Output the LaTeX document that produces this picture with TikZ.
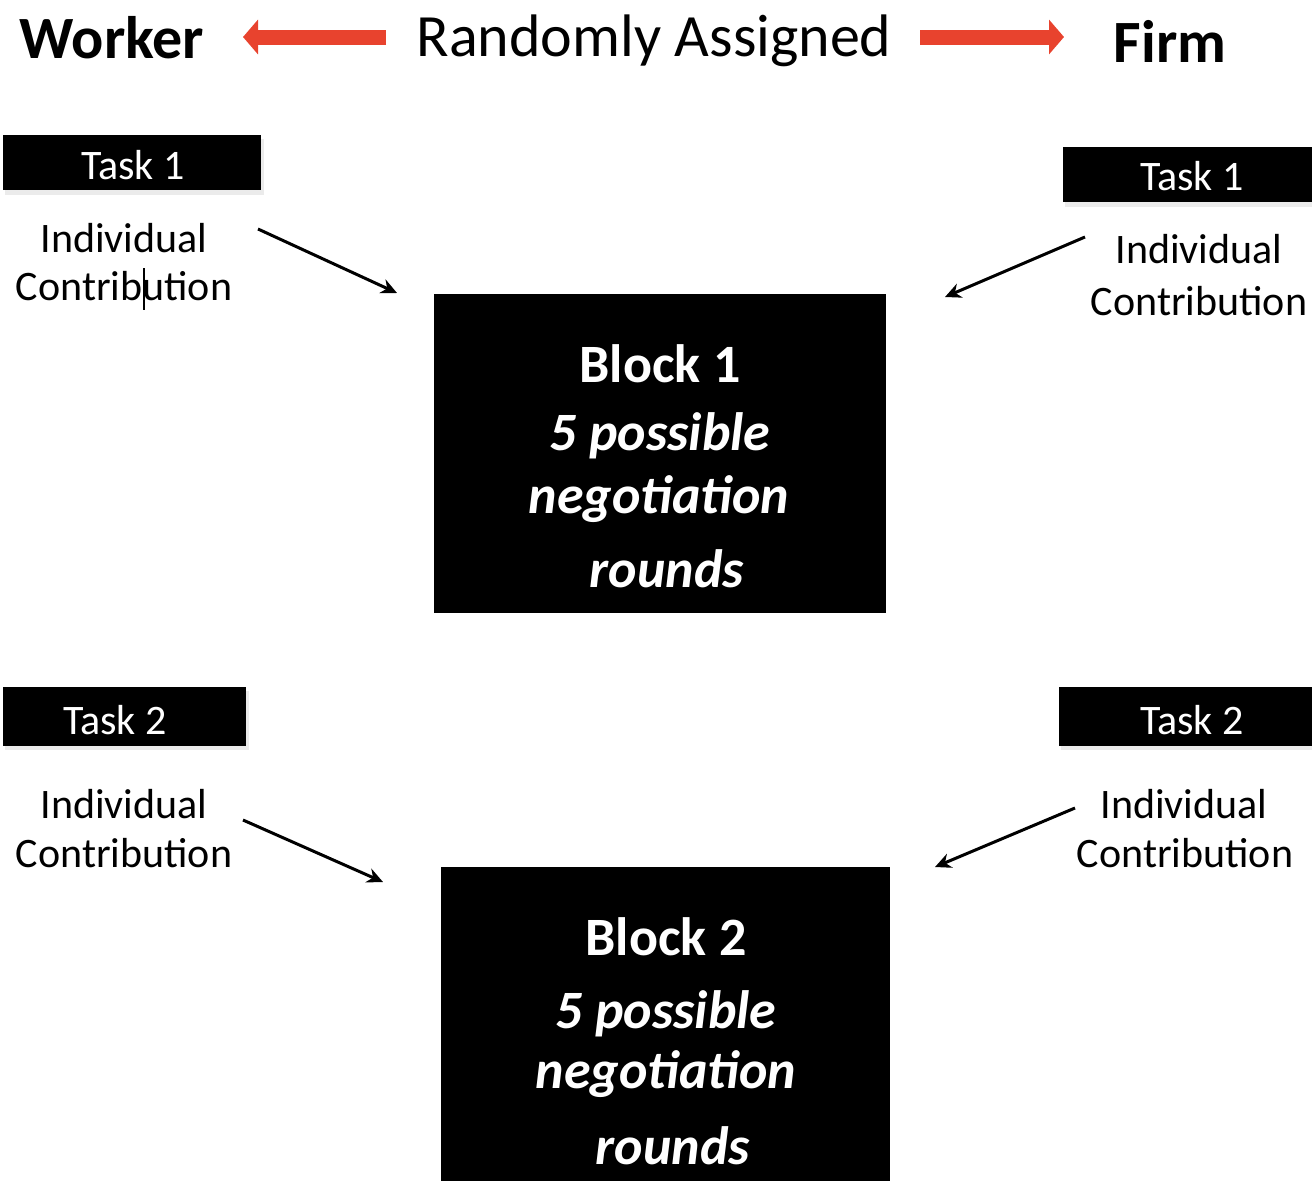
\documentclass[tikz,border=0pt]{standalone}
\usepackage{fontspec}
\setmainfont{Carlito}
\usetikzlibrary{arrows.meta}
\definecolor{arrowred}{RGB}{232,67,46}
\begin{document}
\begin{tikzpicture}[x=1pt,y=-1pt,
  head/.style={anchor=base,inner sep=0pt,font=\fontsize{60}{72}\selectfont},
  txt/.style={anchor=base,inner sep=0pt,font=\fontsize{42}{50}\selectfont},
  tasktxt/.style={txt,text=white},
  blockhead/.style={anchor=base,inner sep=0pt,text=white,font=\fontsize{54}{64}\selectfont\bfseries},
  blocktxt/.style={anchor=base,inner sep=0pt,text=white,font=\fontsize{54}{64}\selectfont\bfseries\itshape},
  taskbox/.style={fill=black,draw=none,inner sep=0pt},
  blockbox/.style={fill=black,draw=none,inner sep=0pt},
  shadow/.style={fill=black!8,draw=none},
  bigarrow/.style={draw=arrowred,line width=15pt,-{Triangle[length=15pt,width=34pt]}},
  ptr/.style={line width=3pt,-{Stealth[length=16pt,width=15pt]}}
]
\useasboundingbox (0,0) rectangle (1312,1181);

% header row
\node[head,font=\fontsize{60}{72}\selectfont\bfseries] (worker) at (112,58) {Worker};
\node[head] (ra) at (654,56) {Randomly Assigned};
\node[head,font=\fontsize{60}{72}\selectfont\bfseries] (firm) at (1170,62) {Firm};
\coordinate (lstart) at (386,37);
\coordinate (lend) at (243,37);
\coordinate (rstart) at (920,37);
\coordinate (rend) at (1064,37);
\draw[bigarrow] (lstart) -- (lend);
\draw[bigarrow] (rstart) -- (rend);

% task boxes (with a soft shadow strip)
\fill[shadow] (5,139) rectangle (264,195);
\node[taskbox,minimum width=258pt,minimum height=55pt] (t1l) at (132,162.5) {};
\node[tasktxt] (t1ltxt) at (133,179) {Task 1};

\fill[shadow] (1065,151) rectangle (1312,207);
\node[taskbox,minimum width=249pt,minimum height=55pt] (t1r) at (1187.5,174.5) {};
\node[tasktxt] (t1rtxt) at (1192,190) {Task 1};

\fill[shadow] (5,691) rectangle (249,750);
\node[taskbox,minimum width=243pt,minimum height=59pt] (t2l) at (124.5,716.5) {};
\node[tasktxt] (t2ltxt) at (115,734) {Task 2};

\fill[shadow] (1061,691) rectangle (1312,750);
\node[taskbox,minimum width=253pt,minimum height=59pt] (t2r) at (1185.5,716.5) {};
\node[tasktxt] (t2rtxt) at (1192,734) {Task 2};

% contribution labels
\node[txt] (ind1l) at (124,252) {Individual};
\node[txt] (con1l) at (124,300) {Contribution};
\node[txt] (ind1r) at (1199,263) {Individual};
\node[txt] (con1r) at (1199,315) {Contribution};
\node[txt] (ind2l) at (124,818) {Individual};
\node[txt] (con2l) at (124,867) {Contribution};
\node[txt] (ind2r) at (1184,818) {Individual};
\node[txt] (con2r) at (1185,867) {Contribution};

% text caret
\draw[line width=2pt] (144,268) -- (144,310);

% blocks
\node[blockbox,minimum width=452pt,minimum height=319pt] (b1) at (660,453.5) {};
\node[blockhead] (b1a) at (660,382) {Block 1};
\node[blocktxt] (b1b) at (660,450) {5 possible};
\node[blocktxt] (b1c) at (659,513) {negotiation};
\node[blocktxt] (b1d) at (667,587) {rounds};

\node[blockbox,minimum width=449pt,minimum height=314pt] (b2) at (665.5,1024) {};
\node[blockhead] (b2a) at (666,955) {Block 2};
\node[blocktxt] (b2b) at (666,1028) {5 possible};
\node[blocktxt] (b2c) at (666,1088) {negotiation};
\node[blocktxt] (b2d) at (673,1164) {rounds};

% contribution arrows into the blocks
\coordinate (a1s) at (258,229);
\coordinate (a1e) at (397,293);
\coordinate (a2s) at (1085,237);
\coordinate (a2e) at (945,297);
\coordinate (a3s) at (243,820);
\coordinate (a3e) at (383,882);
\coordinate (a4s) at (1075,808);
\coordinate (a4e) at (935,867);
\draw[ptr] (a1s) -- (a1e);
\draw[ptr] (a2s) -- (a2e);
\draw[ptr] (a3s) -- (a3e);
\draw[ptr] (a4s) -- (a4e);
\end{tikzpicture}
\end{document}
